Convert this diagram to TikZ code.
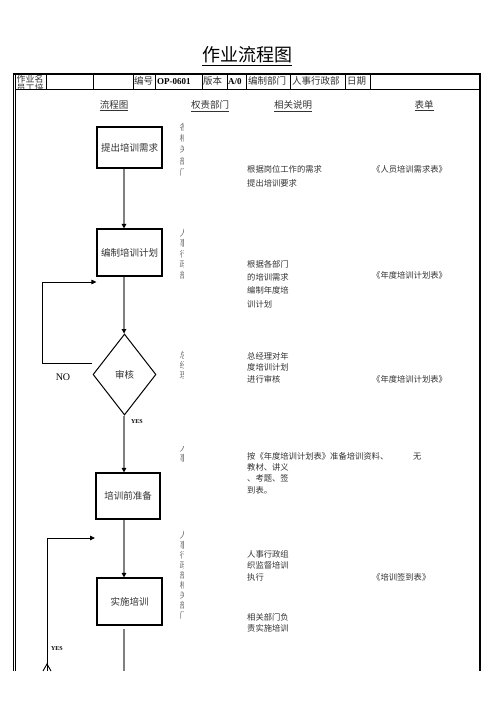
\documentclass[tikz,border=0pt]{standalone}
\usepackage{fontspec}
\setmainfont{Liberation Serif}
\newfontfamily\cjk{Noto Sans CJK SC}
\usetikzlibrary{shapes.geometric,arrows.meta,calc}
\begin{document}
\begin{tikzpicture}[x=1bp,y=-1bp,
  box/.style={draw,line width=1.1bp,inner sep=0,font=\cjk\fontsize{9.5bp}{11bp}\selectfont,text=black!80},
  dia/.style={draw,diamond,line width=1bp,inner sep=0,minimum width=63bp,minimum height=81bp,font=\cjk\fontsize{9.5bp}{11bp}\selectfont,text=black!80},
  conn/.style={draw=black!50,line width=1.3bp,-{Triangle[color=black,length=4.5bp,width=4.5bp]}},
  plain/.style={draw=black!50,line width=1.3bp},
  loopln/.style={draw=black,line width=0.9bp},
  looparr/.style={draw=black,line width=0.9bp,-{Triangle[color=black,length=5bp,width=4.5bp]}},
  hdr/.style={anchor=base west,inner sep=0,font=\cjk\fontsize{9.5bp}{11bp}\selectfont,text=black!80},
  lat/.style={anchor=base west,inner sep=0,font=\fontsize{9bp}{11bp}\selectfont\bfseries,text=black},
  colh/.style={anchor=base,inner sep=0,font=\cjk\fontsize{9.5bp}{11bp}\selectfont,text=black!80},
  desc/.style={anchor=base west,inner sep=0,align=left,text=black!80,font=\cjk\fontsize{8.3bp}{#1}\selectfont},
  desc/.default={12bp},
  colt/.style={anchor=north west,inner sep=0,align=left,text=black!55,font=\cjk\fontsize{8.5bp}{#1}\selectfont},
  colt/.default={10bp}
]
\useasboundingbox[fill=white] (0,0) rectangle (496,702);

% title
\node[anchor=base,inner sep=0,font=\cjk\fontsize{18bp}{20bp}\selectfont] (title) at (247,62) {\underline{作业流程图}};

% frame
\draw[line width=0.6bp] (13,74) -- (13,671);
\draw[line width=0.6bp] (15.5,74) -- (15.5,671);
\draw[line width=2.5bp] (480,73) -- (480,671);
\draw[line width=2bp] (12.7,74) -- (481.2,74);
\draw[line width=0.8bp] (15.5,89) -- (479,89);
\foreach \xx in {46,93,133,155,202,227,246,290,345,370}
  \draw[line width=0.8bp] (\xx,74) -- (\xx,89);

% header cells
\begin{scope}
\clip (16,75) rectangle (46,88.6);
\node[anchor=north west,inner sep=0,align=left,text=black!80,font=\cjk\fontsize{9bp}{9.5bp}\selectfont] (h0) at (16.5,74.5) {作业名\\员工培};
\end{scope}
\node[hdr] (h1) at (134,85) {编号};
\node[lat] (h2) at (157,85) {OP-0601};
\node[hdr] (h3) at (203,85) {版本};
\node[lat] (h4) at (228,85) {A/0};
\node[hdr] (h5) at (248,85) {编制部门};
\node[hdr] (h6) at (292,85) {人事行政部};
\node[hdr] (h7) at (347,85) {日期};

% column heads
\node[colh] (c1) at (114,108.5) {\underline{流程图}};
\node[colh] (c2) at (210,108.5) {\underline{权责部门}};
\node[colh] (c3) at (293,108.5) {\underline{相关说明}};
\node[colh] (c4) at (424,108.5) {\underline{表单}};

% flow nodes
\coordinate (sp) at (124,0);
\node[box,minimum width=65bp,minimum height=41bp] (b1) at (129.5,147.5) {提出培训需求};
\node[box,minimum width=65bp,minimum height=47bp] (b2) at (129.5,252.5) {编制培训计划};
\node[dia] (d) at (124.5,374.5) {审核};
\node[box,minimum width=64bp,minimum height=46bp] (b3) at (128,496) {培训前准备};
\node[box,minimum width=65bp,minimum height=47bp] (b4) at (129.5,601.5) {实施培训};

\draw[conn] (b1.south -| sp) -- (b2.north -| sp);
\draw[conn] (b2.south -| sp) -- (d.north -| sp);
\draw[conn] (d.south -| sp) -- (b3.north -| sp);
\draw[conn] (b3.south -| sp) -- (b4.north -| sp);
\coordinate (bend) at (124,671);
\draw[plain] ($(b4.south -| sp)+(0,3)$) -- (bend);

% NO loop
\coordinate (n1) at (92,363);
\coordinate (n3) at (42,282);
\draw[looparr] (n1) -- (n3 |- n1) -- (n3) -- (b2.west |- n3);
\node[inner sep=0,font=\fontsize{10bp}{12bp}\selectfont] (no) at (63,377) {NO};
\node[inner sep=0,font=\fontsize{6bp}{7bp}\selectfont\bfseries] (yes1) at (137,422) {YES};

% YES loop
\coordinate (y0) at (47,671);
\coordinate (y1) at (47,538);
\coordinate (y2) at (95,538);
\draw[looparr] (y0) -- (y1) -- (y2);
\coordinate (ya) at (43,671);
\coordinate (yv) at (47,664);
\coordinate (yb) at (51,671);
\draw[loopln] (ya) -- (yv) -- (yb);
\node[inner sep=0,font=\fontsize{6bp}{7bp}\selectfont\bfseries] (yes2) at (57,649) {YES};

% responsibility column (clipped)
\begin{scope}
\clip (179,118) rectangle (183.5,180);
\node[colt=11.3bp] (r1) at (179.5,122.8) {各\\相\\关\\部\\门};
\end{scope}
\begin{scope}
\clip (179,224) rectangle (183.5,282);
\node[colt=10.5bp] (r2) at (179.5,228.8) {人\\事\\行\\政\\部};
\end{scope}
\begin{scope}
\clip (179,348) rectangle (183.5,382);
\node[colt=10bp] (r3) at (179.5,350.8) {总\\经\\理};
\end{scope}
\begin{scope}
\clip (179,446) rectangle (183.5,464);
\node[colt=10bp] (r4) at (179.5,443.8) {人\\事};
\end{scope}
\begin{scope}
\clip (179,528) rectangle (183.5,624);
\node[colt=10.1bp] (r5) at (179.5,530.8) {人\\事\\行\\政\\部\\相\\关\\部\\门};
\end{scope}

% descriptions (base anchor = last line baseline)
\node[desc=14bp] (t1) at (247,186.2) {根据岗位工作的需求\\提出培训要求};
\node[desc] (f1) at (372,172.2) {《人员培训需求表》};
\node[desc=13.3bp] (t2) at (247,307.1) {根据各部门\\的培训需求\\编制年度培\\训计划};
\node[desc] (f2) at (372,278.2) {《年度培训计划表》};
\node[desc=11.5bp] (t3) at (247,382.2) {总经理对年\\度培训计划\\进行审核};
\node[desc] (f3) at (372,382.2) {《年度培训计划表》};
\node[desc=11.3bp] (t4) at (247,493.1) {按《年度培训计划表》准备培训资料、\\教材、讲义\\、考题、签\\到表。};
\node[desc] (f4) at (413,459.2) {无};
\node[desc=11.5bp] (t5) at (247,580.2) {人事行政组\\织监督培训\\执行};
\node[desc] (f5) at (372,580.2) {《培训签到表》};
\node[desc=11bp] (t6) at (247,631.2) {相关部门负\\责实施培训};

\end{tikzpicture}
\end{document}
